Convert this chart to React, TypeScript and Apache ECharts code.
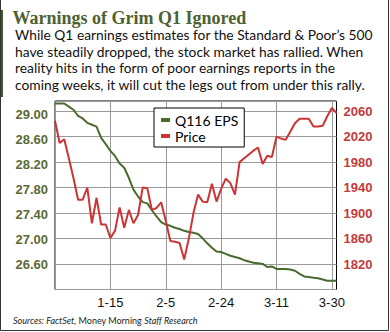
import React, { useEffect, useRef } from "react";
import * as echarts from "echarts";

const categories = [
  "12-29", "12-30", "12-31", "1-4", "1-5", "1-6", "1-7", "1-8", "1-11", "1-12", "1-13", "1-14",
  "1-15", "1-19", "1-20", "1-21", "1-22", "1-25", "1-26", "1-27", "1-28", "1-29", "2-1", "2-3",
  "2-5", "2-8", "2-9", "2-10", "2-11", "2-12", "2-16", "2-17", "2-18", "2-19", "2-22", "2-23",
  "2-24", "2-25", "2-26", "2-29", "3-1", "3-2", "3-3", "3-4", "3-7", "3-8", "3-9", "3-10",
  "3-11", "3-14", "3-15", "3-16", "3-17", "3-18", "3-21", "3-22", "3-23", "3-24", "3-28", "3-29",
  "3-30", "3-31",
];

const epsValues = [
  29.18, 29.18, 29.18, 29.13, 29.08, 28.98, 28.94, 28.87, 28.84, 28.81,
  28.63, 28.53, 28.42, 28.34, 28.22, 28.15, 27.99, 27.8, 27.69, 27.6,
  27.58, 27.47, 27.37, 27.28, 27.24, 27.22, 27.19, 27.17, 27.14, 27.12,
  27.11, 27.09, 27.02, 26.94, 26.87, 26.81, 26.8, 26.77, 26.74, 26.72,
  26.7, 26.67, 26.65, 26.63, 26.62, 26.61, 26.56, 26.57, 26.53, 26.53,
  26.53, 26.52, 26.5, 26.45, 26.41, 26.4, 26.39, 26.38, 26.36, 26.34,
  26.34, 26.34,
];

const priceValues = [
  2045, 2010, 2016, 1986, 1955, 1921, 1921, 1940, 1884, 1924,
  1882, 1882, 1861, 1872, 1909, 1877, 1905, 1884, 1897, 1940,
  1939, 1905, 1908, 1917, 1888, 1856, 1855, 1853, 1827, 1860,
  1900, 1929, 1918, 1917, 1946, 1918, 1938, 1954, 1947, 1929,
  1980, 1986, 1992, 1998, 2003, 1977, 1990, 1988, 2020, 2017,
  2015, 2028, 2041, 2048, 2048, 2048, 2036, 2036, 2037, 2052,
  2065, 2057,
];

const seriesNames = ["Q116 EPS", "Price"];
const titleText = "Warnings of Grim Q1 Ignored";
const bodyLines = [
  "While Q1 earnings estimates for the Standard & Poor\u2019s 500",
  "have steadily dropped, the stock market has rallied. When",
  "reality hits in the form of poor earnings reports in the",
  "coming weeks, it will cut the legs out from under this rally.",
];
const sourceParts = ["Sources: FactSet,", "Money Morning", "Staff Research"];

const GREEN = "#4b6a2e";
const RED = "#cc3434";

export default function App() {
  const ref = useRef<HTMLDivElement>(null);

  useEffect(() => {
    document.body.style.margin = "0";
    const chart = echarts.init(ref.current as HTMLDivElement, null, { renderer: "svg" });

    const bodyGraphics = bodyLines.map((line, i) => ({
      type: "text",
      x: 15,
      y: 34.3 + i * 16.7,
      style: {
        text: line,
        fontFamily: "Lato",
        fontSize: 13.8,
        fill: "#111",
        verticalAlign: "middle",
        align: "left",
      },
    }));

    chart.setOption({
      animation: false,
      backgroundColor: "#fff",
      textStyle: { fontFamily: "Lato" },
      grid: {
        left: 55,
        top: 101,
        width: 281.5,
        height: 188.5,
        show: true,
        borderColor: "#000",
        borderWidth: 1,
        backgroundColor: "transparent",
        outerBoundsMode: "none",
      },
      legend: {
        orient: "vertical",
        left: 154,
        top: 108,
        data: seriesNames,
        icon: "rect",
        itemWidth: 9,
        itemHeight: 4,
        itemGap: 0,
        padding: [4, 6, 3, 7],
        backgroundColor: "#fff",
        borderColor: "#000",
        borderWidth: 1,
        textStyle: { fontFamily: "Lato", fontSize: 14, color: "#000", lineHeight: 16 },
      },
      xAxis: {
        type: "category",
        data: categories,
        boundaryGap: false,
        axisLine: { show: false },
        axisTick: { show: false },
        axisLabel: {
          interval: (i: number) => i % 12 === 0 && i > 0,
          color: "#111",
          fontFamily: "Liberation Sans",
          fontSize: 13,
          margin: 6,
        },
        splitLine: {
          show: true,
          interval: (i: number) => i % 12 === 0,
          lineStyle: { color: "#9a9a9a", width: 1 },
        },
      },
      yAxis: [
        {
          type: "value",
          position: "left",
          min: 26.2,
          max: 29.22,
          interval: 0.2,
          axisLine: { show: false },
          axisTick: { show: false },
          splitLine: { show: false },
          axisLabel: {
            formatter: (v: number) => {
              const k = Math.round(v * 10);
              return k % 4 === 2 && k > 263 && k < 292 ? (k / 10).toFixed(2) : "";
            },
            color: "#5a6a34",
            fontFamily: "Liberation Sans",
            fontWeight: "bold",
            fontSize: 13,
            margin: 7,
          },
        },
        {
          type: "value",
          position: "right",
          min: 1780,
          max: 2076,
          interval: 20,
          axisLine: { show: false },
          axisTick: { show: false },
          splitLine: { show: false },
          axisLabel: {
            formatter: (v: number) => {
              const r = Math.round(v);
              return (r - 1780) % 40 === 0 && r > 1790 && r < 2070 ? String(r) : "";
            },
            color: "#c23a3a",
            fontFamily: "Liberation Sans",
            fontWeight: "bold",
            fontSize: 13,
            margin: 7,
          },
        },
        {
          type: "value",
          position: "right",
          min: 0,
          max: 296,
          interval: 40,
          axisLine: { show: false },
          axisTick: { show: false },
          axisLabel: { show: false },
          splitLine: { show: true, lineStyle: { color: "#9a9a9a", width: 1 } },
        },
      ],
      series: [
        {
          name: seriesNames[0],
          type: "line",
          yAxisIndex: 0,
          data: epsValues,
          symbol: "none",
          lineStyle: { color: GREEN, width: 2 },
          itemStyle: { color: GREEN },
        },
        {
          name: seriesNames[1],
          type: "line",
          yAxisIndex: 1,
          data: priceValues,
          symbol: "none",
          lineStyle: { color: RED, width: 2 },
          itemStyle: { color: RED },
        },
      ],
      graphic: [
        {
          type: "rect",
          shape: { x: 0, y: 10, width: 3, height: 87 },
          style: { fill: "#3f5a28" },
        },
        {
          type: "polyline",
          shape: { points: [[0.5, 0], [0.5, 330.5], [388.5, 330.5], [388.5, 0]] },
          style: { stroke: "#333", lineWidth: 1, fill: null },
        },
        {
          type: "text",
          x: 12.5,
          y: 17.5,
          style: {
            text: titleText,
            fontFamily: "Liberation Serif",
            fontWeight: "bold",
            fontSize: 18,
            fill: "#4e6130",
            verticalAlign: "middle",
            align: "left",
          },
        },
        ...bodyGraphics,
        {
          type: "text",
          x: 13,
          y: 320,
          style: {
            text: `{i|${sourceParts[0]}} {n|${sourceParts[1]}} {i|${sourceParts[2]}}`,
            verticalAlign: "middle",
            align: "left",
            rich: {
              i: { fontFamily: "Lato", fontStyle: "italic", fontSize: 9, fill: "#222" },
              n: { fontFamily: "Lato", fontSize: 9, fill: "#222" },
            },
            fontFamily: "Lato",
            fontSize: 9,
            fill: "#222",
          },
        },
      ],
    });

    return () => chart.dispose();
  }, []);

  return <div ref={ref} style={{ width: 390, height: 332 }} />;
}
